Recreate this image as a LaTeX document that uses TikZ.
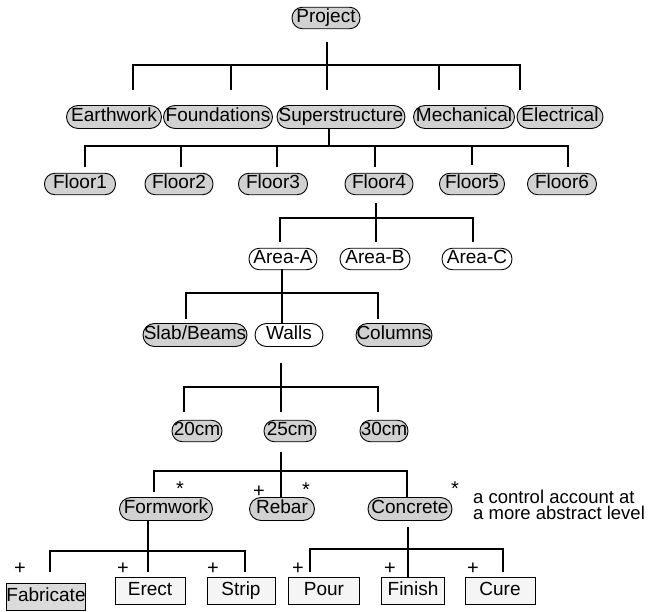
\documentclass[tikz,border=0pt]{standalone}
\usepackage{fontspec}
\setmainfont{Liberation Sans}
\begin{document}
\begin{tikzpicture}[x=1pt,y=-1pt,
  conn/.style={line width=2.6pt,line join=miter},
  box/.style={draw,line width=0.9pt,font=\fontsize{19}{21}\selectfont,
    text height=13.5pt,text depth=4pt,inner xsep=0pt,inner ysep=2pt},
  oval/.style={box,rounded corners=10.5pt,minimum height=21pt},
  tall/.style={minimum height=23pt,rounded corners=11.5pt},
  shade/.style={fill=black!18},
  blank/.style={fill=white},
  task/.style={box,minimum height=27pt,fill=black!4,rounded corners=0pt},
  sign/.style={font=\fontsize{20}{22}\selectfont,inner sep=0pt,anchor=base},
  note/.style={font=\fontsize{18.5}{16}\selectfont,inner sep=0pt,anchor=north west,align=left}]
\useasboundingbox (0,0) rectangle (648,612);

% ---- nodes of the breakdown structure ----
\node[oval,shade,minimum width=68pt] (project) at (326,18) {Project};

\node[oval,tall,shade,minimum width=95pt]  (earthwork)      at (114,117) {Earthwork};
\node[oval,tall,shade,minimum width=109pt] (foundations)    at (218,117) {Foundations};
\node[oval,tall,shade,minimum width=128pt] (superstructure) at (341,117) {Superstructure};
\node[oval,tall,shade,minimum width=101pt] (mechanical)     at (464,117) {Mechanical};
\node[oval,tall,shade,minimum width=86pt]  (electrical)     at (560,117) {Electrical};

\node[oval,shade,minimum width=71pt] (floor1) at (80,184)  {Floor1};
\node[oval,shade,minimum width=68pt] (floor2) at (179,184) {Floor2};
\node[oval,shade,minimum width=69pt] (floor3) at (273,184) {Floor3};
\node[oval,shade,minimum width=68pt] (floor4) at (379,184) {Floor4};
\node[oval,shade,minimum width=65pt] (floor5) at (472,184) {Floor5};
\node[oval,shade,minimum width=69pt] (floor6) at (562,184) {Floor6};

\node[oval,blank,minimum width=68pt] (areaA) at (283,259) {Area-A};
\node[oval,blank,minimum width=70pt] (areaB) at (375,259) {Area-B};
\node[oval,blank,minimum width=70pt] (areaC) at (477,259) {Area-C};

\node[oval,tall,shade,minimum width=104pt] (slab)    at (195,335) {Slab/Beams};
\node[oval,tall,blank,minimum width=68pt]  (walls)   at (289,335) {Walls};
\node[oval,tall,shade,minimum width=76pt]  (columns) at (394,335) {Columns};

\node[oval,shade,minimum width=50pt] (cm20) at (197,431) {20cm};
\node[oval,shade,minimum width=52pt] (cm25) at (290,431) {25cm};
\node[oval,shade,minimum width=48pt] (cm30) at (384,431) {30cm};

\node[oval,tall,shade,minimum width=93pt] (formwork) at (166,509) {Formwork};
\node[oval,tall,shade,minimum width=65pt] (rebar)    at (282,509) {Rebar};
\node[oval,tall,shade,minimum width=84pt] (concrete) at (410,509) {Concrete};

\node[task,fill=black!14,minimum width=77pt] (fabricate) at (46,597)  {Fabricate};
\node[task,minimum width=70pt] (erect)  at (150,591) {Erect};
\node[task,minimum width=68pt] (strip)  at (241,591) {Strip};
\node[task,minimum width=71pt] (pour)   at (324,591) {Pour};
\node[task,minimum width=63pt] (finish) at (413,591) {Finish};
\node[task,minimum width=70pt] (cure)   at (500,591) {Cure};

% ---- connectors ----
% Project -> first level
\draw[conn] (327,42) -- (327,90);
\draw[conn] (133,90) -- (133,65) -- (520,65) -- (520,90);
\draw[conn] (231,65) -- (231,90);
\draw[conn] (439,65) -- (439,90);

% Superstructure -> floors
\draw[conn] (329,128) -- (329,146);
\draw[conn] (85,167) -- (85,146) -- (568,146) -- (568,167);
\draw[conn] (181,146) -- (181,167);
\draw[conn] (277,146) -- (277,167);
\draw[conn] (375,146) -- (375,167);
\draw[conn] (472,146) -- (472,165);

% Floor4 -> areas
\draw[conn] (376,203) -- (376,242);
\draw[conn] (280,242) -- (280,218) -- (473,218) -- (473,242);

% Area-A -> element types
\draw[conn] (282,269) -- (282,323);
\draw[conn] (186,319) -- (186,293) -- (378,293) -- (378,319);

% Walls -> thicknesses
\draw[conn] (281,363) -- (281,412);
\draw[conn] (184,412) -- (184,387) -- (378,387) -- (378,412);

% 25cm -> work packages
\draw[conn] (281,452) -- (281,497);
\draw[conn] (154,492) -- (154,471) -- (407,471) -- (407,498);

% Formwork -> activities
\draw[conn] (148,520) -- (148,572);
\draw[conn] (50,572) -- (50,551) -- (245,551) -- (245,572);

% Concrete -> activities
\draw[conn] (408,527) -- (408,577);
\draw[conn] (310,572) -- (310,549) -- (503,549) -- (503,572);

% ---- markers ----
\node[sign] (s1) at (180,495) {*};
\node[sign] (s2) at (306,496) {*};
\node[sign] (s3) at (455,495) {*};
\node[sign] (q0) at (259,497) {+};
\node[sign] (q1) at (20,574)  {+};
\node[sign] (q2) at (123,574) {+};
\node[sign] (q3) at (213,574) {+};
\node[sign] (q4) at (298,574) {+};
\node[sign] (q5) at (390,574) {+};
\node[sign] (q6) at (473,574) {+};

% ---- legend ----
\node[note] (legend) at (473,490) {a control account at\\a more abstract level};
\end{tikzpicture}
\end{document}
